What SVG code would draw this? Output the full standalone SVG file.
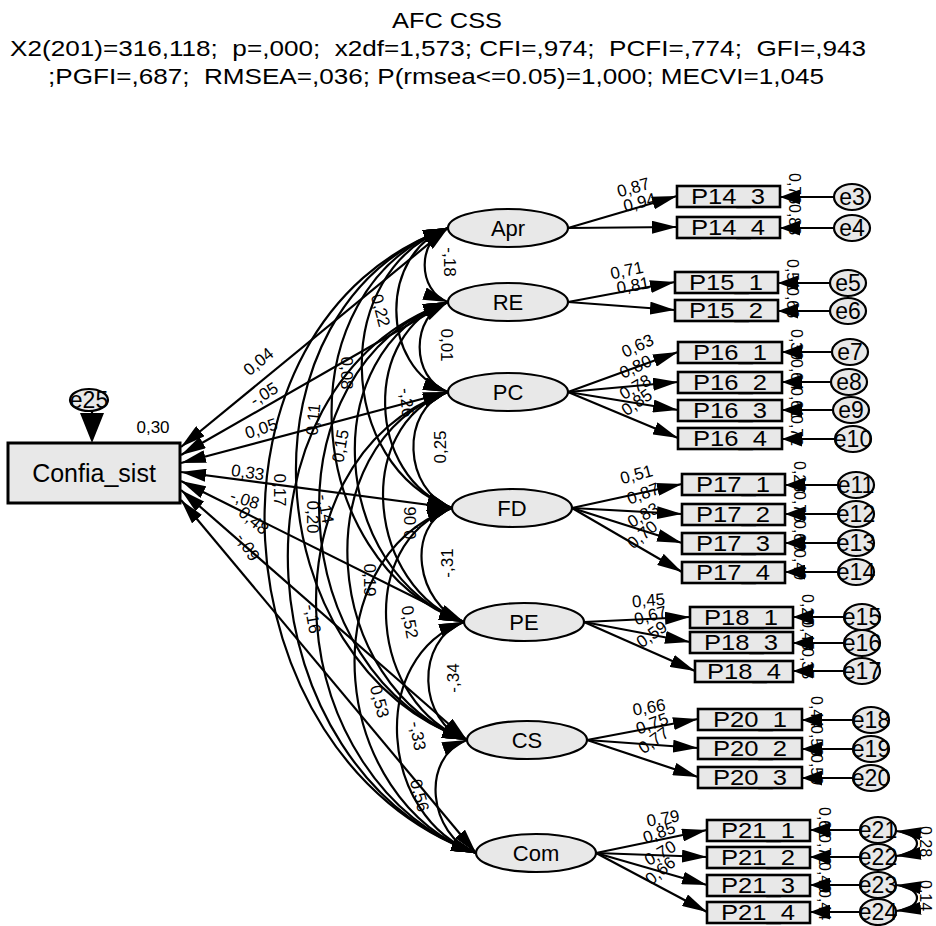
<svg xmlns="http://www.w3.org/2000/svg" width="936" height="926" viewBox="0 0 936 926">
<style>
text{font-family:"Liberation Sans",Arial,sans-serif;fill:#000}
.ttl{font-size:22px;white-space:pre}
.lat{fill:#e8e8e8;stroke:#000;stroke-width:2.2}
.ind{fill:#e8e8e8;stroke:#000;stroke-width:2.6}
.err{fill:#e8e8e8;stroke:#000;stroke-width:2.2}
.nm{font-size:22px;text-anchor:middle}
.en{font-size:23px;text-anchor:middle}
.lb{font-size:17px;text-anchor:middle}
.r2{font-size:16px}
.c{fill:none;stroke:#000;stroke-width:2.2}
.dc{fill:none;stroke:#000;stroke-width:2.2;marker-start:url(#a);marker-end:url(#a)}
.sc{fill:none;stroke:#000;stroke-width:2.2;marker-end:url(#a)}
.ec{fill:none;stroke:#000;stroke-width:2.2;marker-end:url(#b)}
</style>
<defs>
<marker id="a" viewBox="0 0 25 13" markerWidth="25" markerHeight="13" refX="25" refY="6.5" orient="auto-start-reverse" markerUnits="userSpaceOnUse"><path d="M0,0 L25,6.5 L0,13 z" fill="#000"/></marker>
<marker id="b" viewBox="0 0 20 15" markerWidth="20" markerHeight="15" refX="20" refY="7.5" orient="auto-start-reverse" markerUnits="userSpaceOnUse"><path d="M0,0 L20,7.5 L0,15 z" fill="#000"/></marker>
</defs>
<rect width="936" height="926" fill="#fff"/>
<g id="title">
<text class="ttl" x="447" y="28" text-anchor="middle" textLength="110" lengthAdjust="spacingAndGlyphs">AFC CSS</text>
<text class="ttl" x="10" y="56" textLength="856" lengthAdjust="spacingAndGlyphs">X2(201)=316,118;  p=,000;  x2df=1,573; CFI=,974;  PCFI=,774;  GFI=,943</text>
<text class="ttl" x="48" y="84" textLength="776" lengthAdjust="spacingAndGlyphs">;PGFI=,687;  RMSEA=,036; P(rmsea&lt;=0.05)=1,000; MECVI=1,045</text>
</g>
<g id="connectors">
<line class="c" x1="92" y1="410" x2="92" y2="416"/>
<polygon points="80,413 104,413 92,443" fill="#000"/>
<line class="dc" x1="181" y1="447" x2="448" y2="228"/>
<line class="dc" x1="181" y1="455" x2="448" y2="302"/>
<line class="dc" x1="181" y1="463" x2="448" y2="392"/>
<line class="dc" x1="181" y1="472" x2="452" y2="508"/>
<line class="dc" x1="181" y1="481" x2="464" y2="622"/>
<line class="dc" x1="181" y1="490" x2="467" y2="740"/>
<line class="dc" x1="181" y1="500" x2="476" y2="853"/>
<path class="dc" d="M448,228 C416.9,239.1 416.9,290.9 448,302"/>
<path class="dc" d="M448,228 C379.1,252.6 379.1,367.4 448,392"/>
<path class="dc" d="M448,228 C330.4,270 334.4,466 452,508"/>
<path class="dc" d="M448,228 C282.5,287.1 298.5,562.9 464,622"/>
<path class="dc" d="M448,228 C233,304.8 252,663.2 467,740"/>
<path class="dc" d="M448,228 C185.5,321.75 213.5,759.25 476,853"/>
<path class="dc" d="M448,302 C410.2,315.5 410.2,378.5 448,392"/>
<path class="dc" d="M448,302 C361.5,332.9 365.5,477.1 452,508"/>
<path class="dc" d="M448,302 C313.6,350 329.6,574 464,622"/>
<path class="dc" d="M448,302 C264,367.7 283,674.3 467,740"/>
<path class="dc" d="M448,302 C216.6,384.65 244.6,770.35 476,853"/>
<path class="dc" d="M448,392 C399.3,409.4 403.3,490.6 452,508"/>
<path class="dc" d="M448,392 C351.4,426.5 367.4,587.5 464,622"/>
<path class="dc" d="M448,392 C301.8,444.2 320.8,687.8 467,740"/>
<path class="dc" d="M448,392 C254.4,461.15 282.4,783.85 476,853"/>
<path class="dc" d="M452,508 C404.1,525.1 416.1,604.9 464,622"/>
<path class="dc" d="M452,508 C354.6,542.8 369.6,705.2 467,740"/>
<path class="dc" d="M452,508 C307.1,559.75 331.1,801.25 476,853"/>
<path class="dc" d="M464,622 C414.4,639.7 417.4,722.3 467,740"/>
<path class="dc" d="M464,622 C367,656.65 379,818.35 476,853"/>
<path class="dc" d="M467,740 C419.5,757 428.5,836 476,853"/>
<line class="sc" x1="568" y1="228" x2="677" y2="196"/>
<line class="sc" x1="568" y1="228" x2="677" y2="227"/>
<line class="sc" x1="568" y1="302" x2="675" y2="282"/>
<line class="sc" x1="568" y1="302" x2="675" y2="310"/>
<line class="sc" x1="568" y1="392" x2="678" y2="352"/>
<line class="sc" x1="568" y1="392" x2="678" y2="382"/>
<line class="sc" x1="568" y1="392" x2="678" y2="410"/>
<line class="sc" x1="568" y1="392" x2="678" y2="438"/>
<line class="sc" x1="572" y1="508" x2="682" y2="484"/>
<line class="sc" x1="572" y1="508" x2="682" y2="514"/>
<line class="sc" x1="572" y1="508" x2="682" y2="543"/>
<line class="sc" x1="572" y1="508" x2="682" y2="572"/>
<line class="sc" x1="584" y1="622" x2="690" y2="617"/>
<line class="sc" x1="584" y1="622" x2="690" y2="642"/>
<line class="sc" x1="584" y1="622" x2="695" y2="671"/>
<line class="sc" x1="587" y1="740" x2="698" y2="719"/>
<line class="sc" x1="587" y1="740" x2="698" y2="748"/>
<line class="sc" x1="587" y1="740" x2="698" y2="777"/>
<line class="sc" x1="596" y1="853" x2="707" y2="830"/>
<line class="sc" x1="596" y1="853" x2="707" y2="857"/>
<line class="sc" x1="596" y1="853" x2="707" y2="885"/>
<line class="sc" x1="596" y1="853" x2="707" y2="912"/>
<line class="ec" x1="834" y1="197" x2="780" y2="197"/>
<line class="ec" x1="834" y1="228" x2="780" y2="228"/>
<line class="ec" x1="830" y1="283" x2="778" y2="283"/>
<line class="ec" x1="830" y1="311" x2="778" y2="311"/>
<line class="ec" x1="832" y1="352" x2="782" y2="352"/>
<line class="ec" x1="831" y1="382" x2="782" y2="382"/>
<line class="ec" x1="833" y1="410" x2="782" y2="410"/>
<line class="ec" x1="835" y1="439" x2="782" y2="439"/>
<line class="ec" x1="838" y1="485" x2="785" y2="485"/>
<line class="ec" x1="838" y1="514" x2="785" y2="514"/>
<line class="ec" x1="838" y1="543" x2="785" y2="543"/>
<line class="ec" x1="838" y1="572" x2="785" y2="572"/>
<line class="ec" x1="844" y1="617" x2="793" y2="617"/>
<line class="ec" x1="844" y1="643" x2="793" y2="643"/>
<line class="ec" x1="844" y1="671" x2="793" y2="671"/>
<line class="ec" x1="853" y1="720" x2="802" y2="720"/>
<line class="ec" x1="853" y1="749" x2="802" y2="749"/>
<line class="ec" x1="853" y1="778" x2="802" y2="778"/>
<line class="ec" x1="860" y1="830" x2="810" y2="830"/>
<line class="ec" x1="860" y1="857" x2="810" y2="857"/>
<line class="ec" x1="860" y1="885" x2="810" y2="885"/>
<line class="ec" x1="860" y1="912" x2="810" y2="912"/>
<path class="dc" d="M896,831 C924,834 924,853 896,856"/>
<path class="dc" d="M896,885 C924,888 924,908 896,911"/>
<text class="lb" transform="translate(262,366) rotate(-39)">0,04</text>
<text class="lb" transform="translate(267,399) rotate(-32)">-,05</text>
<text class="lb" transform="translate(263,434) rotate(-18)">0,05</text>
<text class="lb" transform="translate(247,478) rotate(8)">0,33</text>
<text class="lb" transform="translate(243,505) rotate(18)">-,08</text>
<text class="lb" transform="translate(250,525) rotate(40)">0,48</text>
<text class="lb" transform="translate(243,550) rotate(58)">-,09</text>
<text class="lb" transform="translate(444,262) rotate(90)">-,18</text>
<text class="lb" transform="translate(375,312) rotate(75)">0,22</text>
<text class="lb" transform="translate(441,345) rotate(90)">0,01</text>
<text class="lb" transform="translate(341,373) rotate(90)">0,08</text>
<text class="lb" transform="translate(401,403) rotate(85)">-,26</text>
<text class="lb" transform="translate(319,420) rotate(-85)">0,11</text>
<text class="lb" transform="translate(446,447) rotate(-90)">0,25</text>
<text class="lb" transform="translate(346,447) rotate(-80)">0,15</text>
<text class="lb" transform="translate(274,490) rotate(90)">0,17</text>
<text class="lb" transform="translate(307,517) rotate(90)">0,20</text>
<text class="lb" transform="translate(320,510) rotate(80)">-,14</text>
<text class="lb" transform="translate(416,523) rotate(-90)">0,06</text>
<text class="lb" transform="translate(453,563) rotate(-90)">-,31</text>
<text class="lb" transform="translate(364,580) rotate(90)">0,19</text>
<text class="lb" transform="translate(404,623) rotate(80)">0,52</text>
<text class="lb" transform="translate(307,620) rotate(80)">-,16</text>
<text class="lb" transform="translate(459,678) rotate(-90)">-,34</text>
<text class="lb" transform="translate(374,703) rotate(75)">0,53</text>
<text class="lb" transform="translate(412,737) rotate(80)">-,33</text>
<text class="lb" transform="translate(414,797) rotate(75)">0,56</text>
<text class="lb" transform="translate(635,193) rotate(-16)">0,87</text>
<text class="lb" transform="translate(641,208) rotate(-14)">0,94</text>
<text class="lb" transform="translate(628,276) rotate(-12)">0,71</text>
<text class="lb" transform="translate(634,291) rotate(-10)">0,81</text>
<text class="lb" transform="translate(640,351) rotate(-25)">0,63</text>
<text class="lb" transform="translate(638,372) rotate(-25)">0,80</text>
<text class="lb" transform="translate(638,392) rotate(-30)">0,78</text>
<text class="lb" transform="translate(640,407) rotate(-35)">0,85</text>
<text class="lb" transform="translate(638,480) rotate(-15)">0,51</text>
<text class="lb" transform="translate(645,499) rotate(-20)">0,87</text>
<text class="lb" transform="translate(646,520) rotate(-30)">0,83</text>
<text class="lb" transform="translate(646,539) rotate(-40)">0,70</text>
<text class="lb" transform="translate(649,606) rotate(-5)">0,45</text>
<text class="lb" transform="translate(652,621) rotate(-15)">0,67</text>
<text class="lb" transform="translate(655,639) rotate(-35)">0,59</text>
<text class="lb" transform="translate(650,713) rotate(-10)">0,66</text>
<text class="lb" transform="translate(654,729) rotate(-20)">0,75</text>
<text class="lb" transform="translate(657,745) rotate(-35)">0,77</text>
<text class="lb" transform="translate(664,824) rotate(-10)">0,79</text>
<text class="lb" transform="translate(661,838) rotate(-20)">0,85</text>
<text class="lb" transform="translate(663,858) rotate(-30)">0,70</text>
<text class="lb" transform="translate(664,875) rotate(-40)">0,66</text>
<text class="r2" transform="translate(789,173) rotate(90)">0,76</text>
<text class="r2" transform="translate(789,204) rotate(90)">0,88</text>
<text class="r2" transform="translate(787,259) rotate(90)">0,51</text>
<text class="r2" transform="translate(787,287) rotate(90)">0,66</text>
<text class="r2" transform="translate(791,329) rotate(90)">0,39</text>
<text class="r2" transform="translate(791,359) rotate(90)">0,64</text>
<text class="r2" transform="translate(791,387) rotate(90)">0,61</text>
<text class="r2" transform="translate(791,415) rotate(90)">0,72</text>
<text class="r2" transform="translate(794,461) rotate(90)">0,26</text>
<text class="r2" transform="translate(794,491) rotate(90)">0,76</text>
<text class="r2" transform="translate(794,520) rotate(90)">0,69</text>
<text class="r2" transform="translate(794,549) rotate(90)">0,49</text>
<text class="r2" transform="translate(802,594) rotate(90)">0,20</text>
<text class="r2" transform="translate(802,619) rotate(90)">0,45</text>
<text class="r2" transform="translate(802,648) rotate(90)">0,35</text>
<text class="r2" transform="translate(811,696) rotate(90)">0,44</text>
<text class="r2" transform="translate(811,725) rotate(90)">0,56</text>
<text class="r2" transform="translate(811,754) rotate(90)">0,59</text>
<text class="r2" transform="translate(819,807) rotate(90)">0,62</text>
<text class="r2" transform="translate(819,834) rotate(90)">0,72</text>
<text class="r2" transform="translate(819,862) rotate(90)">0,49</text>
<text class="r2" transform="translate(819,889) rotate(90)">0,44</text>
<text class="r2" transform="translate(920,826) rotate(90)">0,28</text>
<text class="r2" transform="translate(920,880) rotate(90)">0,14</text>
<text class="lb" x="153" y="433">0,30</text>
</g>
<g id="Confia_sist"><rect class="ind" x="8" y="443" width="172" height="60" style="stroke-width:3"/><text x="94" y="482" font-size="25" text-anchor="middle">Confia_sist</text></g>
<g id="e25"><ellipse class="err" cx="89" cy="400" rx="19" ry="11"/><text class="en" x="89" y="408">e25</text></g>
<g id="Apr"><ellipse class="lat" cx="508" cy="228" rx="60" ry="19"/><text class="nm" x="508" y="236">Apr</text></g>
<g id="RE"><ellipse class="lat" cx="508" cy="302" rx="60" ry="19"/><text class="nm" x="508" y="310">RE</text></g>
<g id="PC"><ellipse class="lat" cx="508" cy="392" rx="60" ry="19"/><text class="nm" x="508" y="400">PC</text></g>
<g id="FD"><ellipse class="lat" cx="512" cy="508" rx="60" ry="19"/><text class="nm" x="512" y="516">FD</text></g>
<g id="PE"><ellipse class="lat" cx="524" cy="622" rx="60" ry="19"/><text class="nm" x="524" y="630">PE</text></g>
<g id="CS"><ellipse class="lat" cx="527" cy="740" rx="60" ry="19"/><text class="nm" x="527" y="748">CS</text></g>
<g id="Com"><ellipse class="lat" cx="536" cy="853" rx="60" ry="19"/><text class="nm" x="536" y="861">Com</text></g>
<g id="P14_3"><rect class="ind" x="677" y="186" width="103" height="21"/><text class="nm" x="728" y="204" textLength="74" lengthAdjust="spacingAndGlyphs">P14_3</text></g>
<g id="P14_4"><rect class="ind" x="677" y="217" width="103" height="21"/><text class="nm" x="728" y="235" textLength="74" lengthAdjust="spacingAndGlyphs">P14_4</text></g>
<g id="P15_1"><rect class="ind" x="675" y="272" width="103" height="21"/><text class="nm" x="726" y="290" textLength="74" lengthAdjust="spacingAndGlyphs">P15_1</text></g>
<g id="P15_2"><rect class="ind" x="675" y="300" width="103" height="21"/><text class="nm" x="726" y="318" textLength="74" lengthAdjust="spacingAndGlyphs">P15_2</text></g>
<g id="P16_1"><rect class="ind" x="678" y="342" width="104" height="21"/><text class="nm" x="730" y="360" textLength="74" lengthAdjust="spacingAndGlyphs">P16_1</text></g>
<g id="P16_2"><rect class="ind" x="678" y="372" width="104" height="21"/><text class="nm" x="730" y="390" textLength="74" lengthAdjust="spacingAndGlyphs">P16_2</text></g>
<g id="P16_3"><rect class="ind" x="678" y="400" width="104" height="21"/><text class="nm" x="730" y="418" textLength="74" lengthAdjust="spacingAndGlyphs">P16_3</text></g>
<g id="P16_4"><rect class="ind" x="678" y="428" width="104" height="21"/><text class="nm" x="730" y="446" textLength="74" lengthAdjust="spacingAndGlyphs">P16_4</text></g>
<g id="P17_1"><rect class="ind" x="682" y="474" width="103" height="21"/><text class="nm" x="733" y="492" textLength="74" lengthAdjust="spacingAndGlyphs">P17_1</text></g>
<g id="P17_2"><rect class="ind" x="682" y="504" width="103" height="21"/><text class="nm" x="733" y="522" textLength="74" lengthAdjust="spacingAndGlyphs">P17_2</text></g>
<g id="P17_3"><rect class="ind" x="682" y="533" width="103" height="21"/><text class="nm" x="733" y="551" textLength="74" lengthAdjust="spacingAndGlyphs">P17_3</text></g>
<g id="P17_4"><rect class="ind" x="682" y="562" width="103" height="21"/><text class="nm" x="733" y="580" textLength="74" lengthAdjust="spacingAndGlyphs">P17_4</text></g>
<g id="P18_1"><rect class="ind" x="690" y="607" width="103" height="21"/><text class="nm" x="741" y="625" textLength="74" lengthAdjust="spacingAndGlyphs">P18_1</text></g>
<g id="P18_3"><rect class="ind" x="690" y="632" width="103" height="21"/><text class="nm" x="741" y="650" textLength="74" lengthAdjust="spacingAndGlyphs">P18_3</text></g>
<g id="P18_4"><rect class="ind" x="695" y="661" width="98" height="21"/><text class="nm" x="744" y="679" textLength="74" lengthAdjust="spacingAndGlyphs">P18_4</text></g>
<g id="P20_1"><rect class="ind" x="698" y="709" width="104" height="21"/><text class="nm" x="750" y="727" textLength="74" lengthAdjust="spacingAndGlyphs">P20_1</text></g>
<g id="P20_2"><rect class="ind" x="698" y="738" width="104" height="21"/><text class="nm" x="750" y="756" textLength="74" lengthAdjust="spacingAndGlyphs">P20_2</text></g>
<g id="P20_3"><rect class="ind" x="698" y="767" width="104" height="21"/><text class="nm" x="750" y="785" textLength="74" lengthAdjust="spacingAndGlyphs">P20_3</text></g>
<g id="P21_1"><rect class="ind" x="707" y="820" width="103" height="21"/><text class="nm" x="758" y="838" textLength="74" lengthAdjust="spacingAndGlyphs">P21_1</text></g>
<g id="P21_2"><rect class="ind" x="707" y="847" width="103" height="21"/><text class="nm" x="758" y="865" textLength="74" lengthAdjust="spacingAndGlyphs">P21_2</text></g>
<g id="P21_3"><rect class="ind" x="707" y="875" width="103" height="21"/><text class="nm" x="758" y="893" textLength="74" lengthAdjust="spacingAndGlyphs">P21_3</text></g>
<g id="P21_4"><rect class="ind" x="707" y="902" width="103" height="21"/><text class="nm" x="758" y="920" textLength="74" lengthAdjust="spacingAndGlyphs">P21_4</text></g>
<g id="e3"><ellipse class="err" cx="852" cy="197" rx="18" ry="13"/><text class="en" x="852" y="205">e3</text></g>
<g id="e4"><ellipse class="err" cx="852" cy="228" rx="18" ry="13"/><text class="en" x="852" y="236">e4</text></g>
<g id="e5"><ellipse class="err" cx="848" cy="283" rx="18" ry="13"/><text class="en" x="848" y="291">e5</text></g>
<g id="e6"><ellipse class="err" cx="848" cy="311" rx="18" ry="13"/><text class="en" x="848" y="319">e6</text></g>
<g id="e7"><ellipse class="err" cx="850" cy="352" rx="18" ry="13"/><text class="en" x="850" y="360">e7</text></g>
<g id="e8"><ellipse class="err" cx="849" cy="382" rx="18" ry="13"/><text class="en" x="849" y="390">e8</text></g>
<g id="e9"><ellipse class="err" cx="851" cy="410" rx="18" ry="13"/><text class="en" x="851" y="418">e9</text></g>
<g id="e10"><ellipse class="err" cx="853" cy="439" rx="18" ry="13"/><text class="en" x="853" y="447">e10</text></g>
<g id="e11"><ellipse class="err" cx="856" cy="485" rx="18" ry="13"/><text class="en" x="856" y="493">e11</text></g>
<g id="e12"><ellipse class="err" cx="856" cy="514" rx="18" ry="13"/><text class="en" x="856" y="522">e12</text></g>
<g id="e13"><ellipse class="err" cx="856" cy="543" rx="18" ry="13"/><text class="en" x="856" y="551">e13</text></g>
<g id="e14"><ellipse class="err" cx="856" cy="572" rx="18" ry="13"/><text class="en" x="856" y="580">e14</text></g>
<g id="e15"><ellipse class="err" cx="862" cy="617" rx="18" ry="13"/><text class="en" x="862" y="625">e15</text></g>
<g id="e16"><ellipse class="err" cx="862" cy="643" rx="18" ry="13"/><text class="en" x="862" y="651">e16</text></g>
<g id="e17"><ellipse class="err" cx="862" cy="671" rx="18" ry="13"/><text class="en" x="862" y="679">e17</text></g>
<g id="e18"><ellipse class="err" cx="871" cy="720" rx="18" ry="13"/><text class="en" x="871" y="728">e18</text></g>
<g id="e19"><ellipse class="err" cx="871" cy="749" rx="18" ry="13"/><text class="en" x="871" y="757">e19</text></g>
<g id="e20"><ellipse class="err" cx="871" cy="778" rx="18" ry="13"/><text class="en" x="871" y="786">e20</text></g>
<g id="e21"><ellipse class="err" cx="878" cy="830" rx="18" ry="13"/><text class="en" x="878" y="838">e21</text></g>
<g id="e22"><ellipse class="err" cx="878" cy="857" rx="18" ry="13"/><text class="en" x="878" y="865">e22</text></g>
<g id="e23"><ellipse class="err" cx="878" cy="885" rx="18" ry="13"/><text class="en" x="878" y="893">e23</text></g>
<g id="e24"><ellipse class="err" cx="878" cy="912" rx="18" ry="13"/><text class="en" x="878" y="920">e24</text></g>
</svg>
